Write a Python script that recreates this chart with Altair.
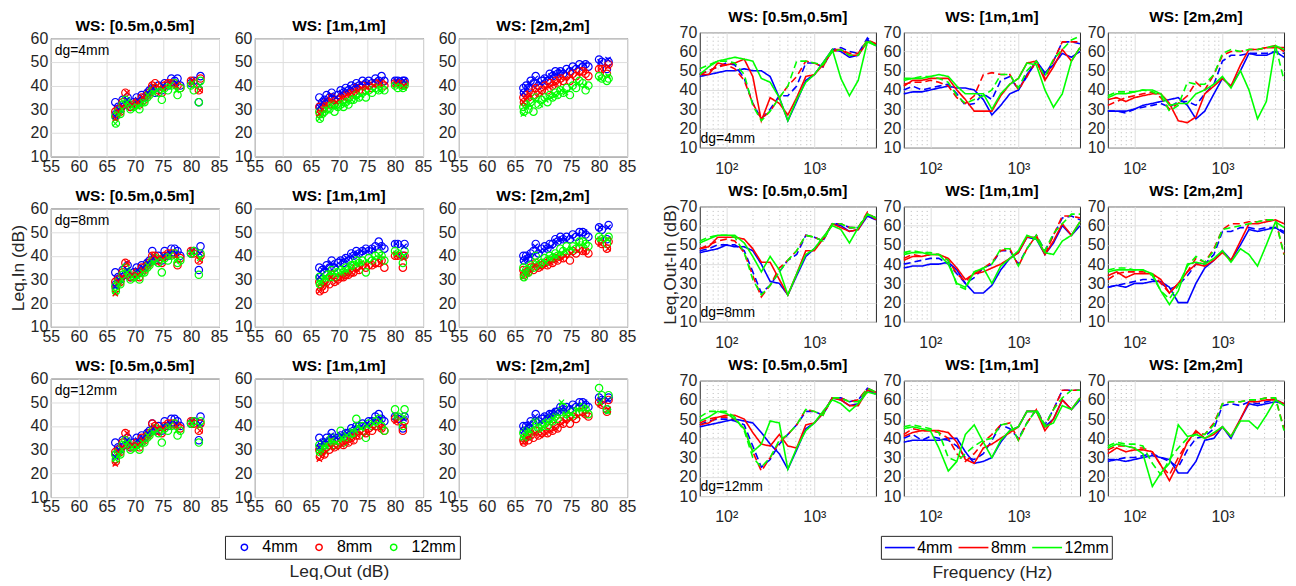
import altair as alt
import pandas as pd

FONT = "Liberation Sans"
TXT = "#262626"
GAPS = ["4mm", "8mm", "12mm"]
COLORS = ["#0000ff", "#ff0000", "#00ff00"]
DGS = ["4", "8", "12"]
WS_KEYS = ["05", "1", "2"]
WS_TITLES = ["WS: [0.5m,0.5m]", "WS: [1m,1m]", "WS: [2m,2m]"]
DG_LABELS = ["dg=4mm", "dg=8mm", "dg=12mm"]

# annotation anchors (data units)
LEFT_NOTE = (55.7, 54.6)
RIGHT_NOTE = (51.0, 14.5)

# ---------------- scatter data: Leq,Out (x) and Leq,In (y) ----------------
# circle markers
LEQ_OUT = [66.5, 66.6, 67.0, 67.4, 67.8, 68.3, 68.7, 69.2, 69.8, 70.3, 70.8, 71.2, 71.7, 72.2, 72.6,
           73.1, 73.6, 74.2, 74.8, 75.3, 75.9, 76.5, 77.1, 77.6, 78.1, 80.0, 80.5, 81.4, 81.7]

SC_4_05_B = [33, 28, 31, 30, 34, 32, 35, 31, 33, 35, 33, 36, 35, 37, 38, 39, 37, 40, 38, 41, 40, 43, 42, 43, 40, 41, 42, 33, 44]
SC_4_05_R = [29, 27, 30, 29, 33, 37, 32, 31, 32, 33, 32, 35, 34, 36, 37, 40, 41, 38, 37, 40, 41, 41, 41, 40, 39, 42, 41, 38, 43]
SC_4_05_G = [27, 24, 29, 28, 32, 34, 33, 30, 31, 32, 30, 33, 33, 35, 36, 38, 39, 37, 34, 39, 38, 40, 41, 36, 39, 40, 38, 33, 42]
SC_4_1_B = [35, 31, 33, 34, 36, 35, 37, 34, 36, 38, 37, 39, 38, 40, 39, 41, 40, 42, 41, 42, 41, 43, 42, 44, 42, 42, 42, 42, 42]
SC_4_1_R = [31, 28, 30, 31, 33, 32, 35, 32, 34, 35, 34, 36, 35, 37, 37, 39, 38, 40, 38, 40, 39, 41, 41, 41, 40, 41, 41, 40, 41]
SC_4_1_G = [29, 26, 28, 29, 30, 30, 32, 29, 31, 32, 31, 33, 32, 34, 34, 36, 35, 37, 35, 38, 37, 39, 38, 39, 38, 40, 39, 39, 40]
SC_4_2_B = [39, 37, 40, 39, 42, 41, 44, 40, 42, 43, 42, 45, 44, 46, 45, 46, 45, 47, 46, 48, 47, 49, 48, 49, 48, 51, 50, 47, 50]
SC_4_2_R = [35, 33, 36, 35, 37, 36, 39, 37, 38, 40, 38, 41, 40, 42, 41, 43, 42, 44, 42, 45, 44, 46, 46, 45, 44, 47, 47, 45, 49]
SC_4_2_G = [31, 29, 32, 30, 33, 29, 35, 32, 34, 35, 33, 36, 35, 37, 36, 38, 37, 39, 36, 40, 39, 42, 41, 38, 40, 44, 43, 42, 43]

SC_8_05_B = [33, 28, 31, 30, 34, 32, 36, 31, 33, 35, 33, 36, 35, 37, 38, 42, 38, 40, 38, 42, 40, 43, 43, 42, 40, 41, 42, 34, 44]
SC_8_05_R = [29, 26, 30, 29, 33, 37, 32, 31, 31, 33, 31, 35, 34, 36, 37, 40, 40, 38, 37, 40, 41, 41, 41, 36, 39, 42, 41, 38, 40]
SC_8_05_G = [27, 25, 29, 28, 32, 35, 33, 30, 31, 32, 30, 33, 33, 35, 36, 38, 39, 37, 33, 39, 38, 40, 41, 37, 38, 41, 42, 32, 41]
SC_8_1_B = [35, 31, 34, 33, 36, 35, 38, 35, 37, 38, 37, 39, 38, 41, 40, 42, 41, 42, 43, 42, 43, 44, 46, 44, 43, 45, 45, 40, 45]
SC_8_1_R = [29, 25, 27, 26, 29, 28, 32, 29, 30, 31, 31, 32, 32, 33, 33, 35, 34, 36, 35, 36, 36, 37, 37, 38, 35, 40, 40, 35, 40]
SC_8_1_G = [31, 28, 30, 29, 32, 31, 34, 31, 33, 34, 33, 35, 34, 36, 36, 38, 37, 38, 33, 39, 38, 40, 41, 40, 38, 42, 41, 37, 42]
SC_8_2_B = [40, 38, 40, 39, 41, 42, 45, 41, 43, 44, 43, 45, 45, 47, 46, 48, 47, 48, 47, 49, 48, 50, 50, 49, 48, 52, 51, 47, 53]
SC_8_2_R = [34, 32, 33, 33, 35, 34, 37, 35, 36, 37, 36, 38, 37, 39, 38, 40, 39, 41, 38, 42, 41, 43, 42, 42, 41, 46, 45, 43, 46]
SC_8_2_G = [35, 31, 34, 33, 36, 35, 40, 36, 37, 39, 38, 40, 39, 41, 40, 43, 42, 44, 42, 44, 43, 46, 46, 45, 44, 48, 47, 45, 48]

SC_12_05_B = [33, 28, 31, 30, 34, 32, 35, 31, 33, 35, 33, 36, 35, 37, 38, 41, 38, 40, 38, 42, 40, 43, 43, 42, 40, 41, 42, 34, 44]
SC_12_05_R = [29, 25, 30, 29, 33, 37, 32, 31, 31, 33, 31, 35, 34, 36, 37, 41, 40, 38, 37, 40, 41, 41, 41, 40, 39, 42, 41, 38, 41]
SC_12_05_G = [28, 26, 29, 28, 32, 34, 33, 30, 31, 32, 30, 33, 33, 35, 36, 38, 39, 37, 33, 39, 38, 40, 41, 36, 38, 41, 42, 33, 42]
SC_12_1_B = [35, 31, 33, 32, 35, 34, 37, 34, 35, 36, 35, 37, 37, 39, 38, 40, 40, 41, 40, 42, 42, 44, 45, 43, 42, 44, 43, 39, 44]
SC_12_1_R = [30, 27, 29, 28, 31, 30, 33, 31, 32, 33, 32, 34, 33, 35, 34, 36, 36, 38, 37, 39, 38, 40, 41, 39, 38, 43, 42, 38, 42]
SC_12_1_G = [32, 29, 31, 30, 33, 32, 35, 32, 34, 38, 33, 35, 35, 37, 37, 43, 38, 40, 35, 41, 40, 42, 43, 40, 38, 47, 44, 40, 47]
SC_12_2_B = [40, 38, 40, 39, 42, 41, 45, 42, 43, 44, 43, 45, 45, 46, 46, 48, 47, 48, 47, 49, 48, 50, 50, 49, 48, 52, 51, 47, 52]
SC_12_2_R = [34, 33, 35, 34, 36, 35, 38, 36, 37, 38, 37, 39, 38, 40, 39, 42, 41, 43, 41, 44, 43, 46, 46, 45, 44, 50, 49, 46, 51]
SC_12_2_G = [37, 35, 38, 36, 39, 38, 42, 39, 40, 41, 40, 43, 42, 44, 43, 46, 48, 45, 44, 46, 45, 48, 48, 47, 45, 56, 53, 47, 53]

# cross markers
LEQ_OUT_X = [66.5, 67.1, 67.7, 68.6, 69.5, 70.5, 71.4, 72.3, 73.3, 74.0, 75.0, 76.2, 77.4, 80.2, 81.6]

SX_4_05_B = [27, 30, 31, 34, 32, 34, 35, 37, 39, 38, 40, 41, 41, 42, 40]
SX_4_05_R = [26, 29, 31, 37, 32, 33, 35, 36, 40, 40, 39, 41, 40, 42, 38]
SX_4_05_G = [24, 28, 30, 33, 31, 31, 33, 36, 37, 38, 38, 40, 38, 41, 40]
SX_4_1_B = [31, 33, 34, 36, 35, 37, 38, 39, 40, 41, 41, 42, 42, 42, 42]
SX_4_1_R = [28, 30, 32, 34, 33, 35, 36, 37, 38, 39, 39, 40, 41, 41, 40]
SX_4_1_G = [26, 28, 30, 32, 31, 32, 33, 34, 35, 36, 37, 38, 38, 40, 39]
SX_4_2_B = [37, 39, 41, 43, 41, 43, 44, 45, 46, 46, 47, 48, 49, 50, 51]
SX_4_2_R = [33, 35, 36, 39, 37, 39, 40, 41, 43, 43, 44, 45, 46, 47, 48]
SX_4_2_G = [28, 31, 32, 34, 32, 34, 35, 36, 38, 37, 39, 41, 40, 43, 44]
SX_8_05_B = [27, 30, 31, 34, 32, 34, 35, 37, 39, 38, 40, 41, 41, 42, 41]
SX_8_05_R = [24, 29, 31, 37, 32, 32, 34, 36, 40, 39, 39, 40, 40, 42, 38]
SX_8_05_G = [25, 28, 30, 33, 31, 31, 33, 36, 37, 38, 38, 40, 38, 41, 39]
SX_8_1_B = [31, 34, 35, 37, 36, 38, 39, 40, 41, 42, 42, 43, 44, 45, 44]
SX_8_1_R = [25, 27, 28, 31, 29, 31, 32, 33, 34, 35, 36, 36, 37, 40, 39]
SX_8_1_G = [28, 30, 31, 33, 32, 33, 34, 36, 37, 37, 38, 39, 40, 41, 40]
SX_8_2_B = [38, 39, 40, 44, 42, 43, 44, 46, 47, 47, 48, 49, 50, 52, 52]
SX_8_2_R = [31, 33, 34, 36, 35, 36, 37, 38, 39, 40, 41, 42, 42, 45, 43]
SX_8_2_G = [31, 33, 35, 38, 36, 37, 39, 40, 41, 42, 43, 45, 45, 47, 47]
SX_12_05_B = [27, 30, 31, 34, 32, 34, 35, 37, 39, 38, 40, 41, 41, 42, 41]
SX_12_05_R = [24, 29, 31, 37, 32, 32, 34, 36, 40, 39, 39, 40, 40, 42, 38]
SX_12_05_G = [26, 28, 30, 33, 31, 31, 33, 36, 37, 38, 38, 40, 38, 41, 40]
SX_12_1_B = [31, 33, 34, 36, 35, 36, 37, 38, 40, 40, 41, 42, 43, 44, 43]
SX_12_1_R = [26, 28, 29, 31, 31, 32, 33, 34, 36, 37, 37, 39, 39, 42, 40]
SX_12_1_G = [29, 31, 32, 34, 33, 35, 36, 38, 40, 39, 40, 41, 42, 44, 44]
SX_12_2_B = [38, 40, 41, 44, 42, 44, 45, 46, 47, 47, 48, 49, 50, 51, 51]
SX_12_2_R = [33, 35, 36, 37, 36, 37, 38, 39, 41, 42, 43, 44, 45, 49, 47]
SX_12_2_G = [35, 37, 38, 42, 39, 41, 42, 44, 50, 45, 45, 47, 47, 50, 46]

# ---------------- spectra: 1/3-octave bands, Leq,Out-In (dB) ----------------
FREQ = [50, 63, 80, 100, 125, 160, 200, 250, 315, 400, 500, 630, 800, 1000, 1250, 1600, 2000, 2500, 3150, 4000, 5000]

LN_4_05_Bs = [47, 48, 49, 50, 50, 51, 50, 50, 47, 36, 24, 34, 45, 48, 54, 61, 60, 57, 58, 66, 63]
LN_4_05_Bd = [48, 50, 52, 54, 53, 46, 33, 25, 30, 37, 37, 42, 54, 54, 52, 61, 62, 60, 59, 67, 63]
LN_4_05_Rs = [48, 48, 54, 53, 54, 56, 47, 24, 36, 33, 27, 36, 47, 48, 53, 60, 61, 58, 58, 65, 64]
LN_4_05_Rd = [48, 50, 52, 53, 51, 45, 33, 25, 29, 36, 42, 47, 55, 54, 52, 61, 61, 59, 59, 66, 64]
LN_4_05_Gs = [48, 52, 55, 56, 57, 56, 55, 46, 44, 36, 24, 35, 44, 48, 54, 61, 46, 37, 45, 65, 63]
LN_4_05_Gd = [51, 53, 55, 55, 54, 48, 32, 24, 29, 36, 42, 55, 55, 54, 53, 60, 61, 58, 58, 66, 63]

LN_4_1_Bs = [38, 39, 39, 40, 41, 42, 41, 41, 40, 35, 27, 32, 38, 40, 48, 55, 49, 53, 59, 57, 60]
LN_4_1_Bd = [40, 42, 40, 41, 42, 43, 38, 32, 33, 38, 35, 45, 47, 40, 47, 55, 48, 55, 65, 65, 64]
LN_4_1_Rs = [42, 45, 45, 46, 46, 46, 40, 35, 29, 29, 29, 37, 43, 46, 54, 55, 45, 52, 61, 55, 62]
LN_4_1_Rd = [43, 44, 44, 45, 44, 42, 36, 33, 37, 48, 49, 48, 48, 40, 47, 55, 46, 55, 65, 65, 65]
LN_4_1_Gs = [45, 46, 46, 47, 48, 47, 42, 38, 38, 38, 30, 38, 43, 46, 54, 53, 40, 31, 38, 55, 62]
LN_4_1_Gd = [46, 46, 47, 47, 46, 44, 37, 33, 35, 37, 40, 48, 48, 41, 50, 55, 47, 56, 61, 66, 68]

LN_4_2_Bs = [29, 29, 29, 30, 32, 33, 34, 35, 36, 32, 25, 29, 38, 46, 42, 50, 59, 58, 58, 60, 57]
LN_4_2_Bd = [29, 29, 28, 30, 31, 32, 33, 31, 34, 34, 32, 38, 43, 55, 58, 58, 59, 59, 59, 60, 59]
LN_4_2_Rs = [35, 36, 34, 36, 37, 38, 38, 33, 24, 23, 26, 38, 42, 46, 42, 53, 61, 61, 62, 62, 62]
LN_4_2_Rd = [32, 34, 36, 37, 38, 39, 36, 30, 33, 37, 44, 40, 48, 58, 60, 60, 61, 61, 62, 63, 60]
LN_4_2_Gs = [36, 38, 38, 39, 40, 40, 38, 32, 33, 33, 38, 40, 43, 47, 41, 50, 40, 25, 34, 63, 61]
LN_4_2_Gd = [37, 39, 39, 39, 40, 39, 37, 29, 32, 44, 43, 43, 48, 59, 61, 60, 61, 61, 62, 63, 45]

LN_8_05_Bs = [46, 47, 48, 50, 49, 49, 47, 40, 31, 30, 24, 34, 44, 48, 53, 61, 60, 57, 58, 65, 63]
LN_8_05_Bd = [47, 48, 50, 50, 50, 47, 36, 25, 29, 36, 42, 45, 55, 54, 52, 61, 61, 59, 59, 66, 64]
LN_8_05_Rs = [48, 49, 54, 54, 54, 53, 48, 41, 41, 32, 24, 35, 47, 47, 53, 61, 59, 57, 58, 66, 64]
LN_8_05_Rd = [48, 50, 52, 53, 52, 46, 34, 23, 29, 38, 42, 47, 55, 54, 52, 61, 61, 59, 59, 67, 63]
LN_8_05_Gs = [51, 53, 55, 55, 55, 51, 44, 36, 44, 37, 24, 35, 45, 48, 54, 60, 58, 51, 59, 66, 64]
LN_8_05_Gd = [52, 54, 55, 55, 54, 46, 32, 24, 29, 36, 42, 47, 55, 54, 52, 61, 61, 59, 59, 66, 64]

LN_8_1_Bs = [38, 39, 39, 40, 40, 41, 37, 30, 25, 25, 29, 37, 43, 46, 54, 53, 45, 51, 60, 55, 60]
LN_8_1_Bd = [40, 41, 42, 43, 43, 40, 35, 30, 33, 38, 40, 47, 47, 40, 48, 55, 47, 55, 64, 65, 63]
LN_8_1_Rs = [42, 44, 44, 45, 45, 43, 38, 32, 35, 36, 38, 40, 43, 46, 54, 54, 45, 52, 61, 55, 62]
LN_8_1_Rd = [43, 45, 44, 45, 45, 42, 35, 31, 35, 38, 41, 47, 48, 39, 48, 55, 45, 55, 65, 65, 64]
LN_8_1_Gs = [45, 46, 46, 45, 45, 40, 30, 28, 36, 38, 30, 39, 43, 47, 55, 53, 46, 45, 52, 55, 62]
LN_8_1_Gd = [46, 47, 46, 46, 45, 42, 29, 27, 36, 38, 40, 48, 48, 39, 48, 55, 47, 56, 61, 66, 66]

LN_8_2_Bs = [28, 29, 28, 30, 30, 31, 31, 28, 20, 20, 30, 38, 42, 47, 42, 50, 58, 57, 58, 59, 56]
LN_8_2_Bd = [28, 29, 30, 31, 32, 32, 30, 27, 29, 34, 40, 40, 45, 57, 57, 59, 59, 58, 59, 59, 57]
LN_8_2_Rs = [34, 36, 33, 35, 35, 35, 32, 25, 30, 36, 40, 39, 42, 46, 42, 52, 61, 61, 62, 63, 61]
LN_8_2_Rd = [32, 35, 36, 36, 36, 35, 30, 25, 30, 36, 43, 41, 48, 58, 61, 61, 62, 62, 63, 63, 45]
LN_8_2_Gs = [36, 37, 37, 37, 37, 35, 26, 19, 26, 40, 41, 40, 43, 47, 41, 48, 45, 39, 50, 62, 59]
LN_8_2_Gd = [37, 38, 38, 37, 37, 34, 26, 22, 29, 39, 44, 41, 47, 58, 59, 60, 61, 62, 63, 63, 45]

LN_12_05_Bs = [46, 47, 48, 49, 50, 49, 48, 43, 37, 32, 24, 34, 45, 48, 53, 61, 60, 57, 58, 65, 63]
LN_12_05_Bd = [47, 49, 50, 50, 49, 47, 36, 25, 29, 37, 42, 47, 54, 54, 52, 61, 61, 59, 60, 66, 64]
LN_12_05_Rs = [47, 48, 51, 52, 52, 50, 43, 37, 36, 42, 36, 35, 47, 48, 53, 61, 60, 57, 57, 65, 64]
LN_12_05_Rd = [48, 50, 51, 51, 50, 45, 33, 23, 30, 38, 42, 47, 55, 54, 52, 61, 61, 59, 60, 66, 64]
LN_12_05_Gs = [49, 51, 54, 53, 50, 45, 33, 37, 49, 48, 24, 35, 44, 48, 54, 60, 58, 54, 58, 64, 63]
LN_12_05_Gd = [51, 54, 54, 54, 51, 44, 30, 25, 30, 39, 42, 47, 55, 54, 52, 61, 61, 59, 59, 66, 64]

LN_12_1_Bs = [38, 39, 39, 39, 39, 40, 40, 33, 27, 28, 30, 38, 44, 46, 54, 54, 46, 50, 60, 55, 60]
LN_12_1_Bd = [40, 42, 39, 41, 40, 39, 36, 30, 29, 32, 39, 47, 45, 40, 48, 55, 47, 55, 65, 65, 65]
LN_12_1_Rs = [41, 43, 44, 44, 44, 43, 38, 29, 27, 35, 37, 40, 43, 46, 54, 54, 44, 50, 60, 55, 61]
LN_12_1_Rd = [42, 45, 44, 44, 43, 40, 32, 28, 32, 38, 42, 47, 48, 39, 48, 55, 46, 55, 65, 65, 65]
LN_12_1_Gs = [45, 46, 45, 44, 35, 23, 28, 42, 47, 38, 30, 39, 44, 46, 54, 54, 46, 48, 57, 55, 61]
LN_12_1_Gd = [46, 47, 46, 45, 43, 30, 28, 32, 36, 39, 40, 47, 48, 39, 48, 55, 47, 55, 61, 65, 65]

LN_12_2_Bs = [28, 29, 28, 29, 30, 31, 30, 29, 22, 22, 28, 39, 40, 46, 40, 50, 58, 57, 58, 59, 58]
LN_12_2_Bd = [29, 29, 30, 30, 31, 32, 30, 28, 25, 34, 40, 41, 45, 57, 58, 57, 59, 58, 59, 60, 58]
LN_12_2_Rs = [32, 35, 33, 34, 34, 33, 26, 18, 27, 38, 44, 40, 42, 46, 41, 50, 59, 59, 60, 60, 58]
LN_12_2_Rd = [34, 36, 36, 35, 35, 33, 26, 21, 30, 38, 43, 42, 48, 58, 59, 59, 60, 60, 61, 61, 45]
LN_12_2_Gs = [35, 37, 36, 35, 32, 15, 22, 27, 47, 41, 42, 40, 43, 46, 41, 49, 49, 45, 52, 60, 57]
LN_12_2_Gd = [36, 38, 37, 37, 36, 27, 21, 29, 35, 40, 42, 42, 47, 58, 59, 59, 60, 60, 61, 61, 44]

LEFT_X_TICKS = [55, 60, 65, 70, 75, 80, 85]
LEFT_Y_TICKS = [10, 20, 30, 40, 50, 60]
RIGHT_Y_TICKS = [10, 20, 30, 40, 50, 60, 70]
FREQ_TICKS = [60, 70, 80, 90, 100, 200, 300, 400, 500, 600, 700, 800, 900, 1000, 2000, 3000, 4000]

XSHAPE = "M-1,-1L1,1M1,-1L-1,1"
LINE_SYMBOL = "M-2,0L2,0"

G = globals()


def color_scale():
    return alt.Scale(domain=GAPS, range=COLORS)


def scatter_panel(r, c):
    rows, xrows = [], []
    for g, code in zip(GAPS, "BRG"):
        for x, y in zip(LEQ_OUT, G[f"SC_{DGS[r]}_{WS_KEYS[c]}_{code}"]):
            rows.append({"out": x, "inn": y, "gap": g})
        for x, y in zip(LEQ_OUT_X, G[f"SX_{DGS[r]}_{WS_KEYS[c]}_{code}"]):
            xrows.append({"out": x, "inn": y, "gap": g})
    df = pd.DataFrame(rows)
    dfx = pd.DataFrame(xrows)
    xaxis_kw = dict(values=LEFT_X_TICKS, labelFlush=False, labelOverlap=False, labelPadding=2, title=None)
    if r == 2 and c == 1:
        xaxis_kw.update(title="Leq,Out (dB)", titlePadding=48)
    yaxis_kw = dict(values=LEFT_Y_TICKS, labelOverlap=False, labelPadding=3, title=None)
    if r == 1 and c == 0:
        yaxis_kw.update(title="Leq,In (dB)", titlePadding=3)
    x = alt.X("out:Q", scale=alt.Scale(domain=[55, 85], nice=False, zero=False), axis=alt.Axis(**xaxis_kw))
    y = alt.Y("inn:Q", scale=alt.Scale(domain=[10, 60], nice=False, zero=False), axis=alt.Axis(**yaxis_kw))
    if r == 2 and c == 1:
        legend = alt.Legend(orient="none", legendX=-30, legendY=158, direction="horizontal", title=None,
                            strokeColor=TXT, fillColor="white", padding=3.5, symbolOffset=8,
                            symbolSize=40, symbolStrokeWidth=1.5, labelFontSize=16, labelFont=FONT,
                            labelColor="black", labelOffset=10, columnPadding=5)
    else:
        legend = None
    circles = alt.Chart(df).mark_point(shape="circle", filled=False, size=55, strokeWidth=1.2, opacity=1).encode(
        x=x, y=y, color=alt.Color("gap:N", scale=color_scale(), legend=legend))
    crosses = alt.Chart(dfx).mark_point(shape=XSHAPE, filled=False, size=28, strokeWidth=1.3, opacity=1).encode(
        x=x, y=y, stroke=alt.Stroke("gap:N", scale=color_scale(), legend=None))
    layers = [circles, crosses]
    if c == 0:
        note = pd.DataFrame({"out": [LEFT_NOTE[0]], "inn": [LEFT_NOTE[1]], "t": [DG_LABELS[r]]})
        layers.append(alt.Chart(note).mark_text(align="left", baseline="middle", font=FONT, fontSize=14,
                                                color="black").encode(x=x, y=y, text="t:N"))
    return alt.layer(*layers).properties(
        width=169, height=119, title=alt.TitleParams(WS_TITLES[c], offset=-4))


def line_panel(r, c):
    rows = []
    for g, code in zip(GAPS, "BRG"):
        for st, sfx in (("solid", "s"), ("dashed", "d")):
            vals = G[f"LN_{DGS[r]}_{WS_KEYS[c]}_{code}{sfx}"]
            for f, v in zip(FREQ, vals):
                rows.append({"freq": f, "lvl": v, "gap": g, "style": st, "key": g + st})
    df = pd.DataFrame(rows)
    xaxis_kw = dict(values=FREQ_TICKS, labelFlush=False, labelOverlap=False, labelPadding=13, title=None,
                    labelExpr="datum.value === 100 ? '10²' : (datum.value === 1000 ? '10³' : '')",
                    gridDash={"condition": {"test": "datum.value === 100 || datum.value === 1000", "value": []},
                              "value": [1, 3]},
                    gridColor={"condition": {"test": "datum.value === 100 || datum.value === 1000",
                                             "value": "#dedede"}, "value": "#b8b8b8"})
    if r == 2 and c == 1:
        xaxis_kw.update(title="Frequency (Hz)", titlePadding=39)
    yaxis_kw = dict(values=RIGHT_Y_TICKS, labelOverlap=False, labelPadding=3, title=None)
    if r == 1 and c == 0:
        yaxis_kw.update(title="Leq,Out-In (dB)", titlePadding=0)
    x = alt.X("freq:Q", scale=alt.Scale(type="log", domain=[50, 5000], nice=False), axis=alt.Axis(**xaxis_kw))
    y = alt.Y("lvl:Q", scale=alt.Scale(domain=[10, 70], nice=False, zero=False), axis=alt.Axis(**yaxis_kw))
    if r == 2 and c == 1:
        legend = alt.Legend(orient="none", legendX=-23, legendY=156, direction="horizontal", title=None,
                            strokeColor=TXT, fillColor="white", padding=3, symbolType=LINE_SYMBOL,
                            symbolSize=225, symbolOffset=7.5, symbolStrokeWidth=1.6, labelFontSize=16,
                            labelFont=FONT, labelColor="black", labelOffset=9, columnPadding=1)
    else:
        legend = None
    lines = alt.Chart(df).mark_line(strokeWidth=1.6).encode(
        x=x, y=y,
        color=alt.Color("gap:N", scale=color_scale(), legend=legend),
        strokeDash=alt.StrokeDash("style:N", scale=alt.Scale(domain=["solid", "dashed"], range=[[1, 0], [7, 4]]),
                                  legend=None),
        detail="key:N")
    layers = [lines]
    if c == 0:
        note = pd.DataFrame({"freq": [RIGHT_NOTE[0]], "lvl": [RIGHT_NOTE[1]], "t": [DG_LABELS[r]]})
        layers.append(alt.Chart(note).mark_text(align="left", baseline="middle", font=FONT, fontSize=14,
                                                color="black").encode(x=x, y=y, text="t:N"))
    return alt.layer(*layers).properties(
        width=177, height=116, title=alt.TitleParams(WS_TITLES[c], offset=-1))


left_grid = alt.concat(*[scatter_panel(r, c) for r in range(3) for c in range(3)],
                       columns=3, spacing={"row": 52, "column": 36}, bounds="flush"
                       ).resolve_scale(color="independent", stroke="independent")
right_grid = alt.concat(*[line_panel(r, c) for r in range(3) for c in range(3)],
                        columns=3, spacing={"row": 59, "column": 28}, bounds="flush"
                        ).resolve_scale(color="independent", strokeDash="independent")

spacer = alt.Chart(pd.DataFrame({"v": [0]})).mark_point(opacity=0).encode(
    x=alt.X("v:Q", axis=None), y=alt.Y("v:Q", axis=None)
).properties(width=10, height=1, view=alt.ViewBackground(strokeOpacity=0))

left = alt.vconcat(spacer, left_grid, spacing=5, bounds="flush").resolve_scale(color="independent",
                                                                               stroke="independent")

chart = alt.hconcat(left, right_grid, spacing=652, bounds="flush").resolve_scale(
    color="independent", stroke="independent", strokeDash="independent"
).properties(padding=0, background="white").configure_view(
    stroke=TXT, strokeWidth=1
).configure_axis(
    labelFont=FONT, labelFontSize=16, labelColor=TXT, ticks=False, domain=False,
    gridColor="#dedede", gridWidth=1, titleFont=FONT, titleFontSize=17.5,
    titleFontWeight="normal", titleColor=TXT
).configure_title(
    font=FONT, fontSize=15.5, fontWeight="bold", color="black"
)

chart.save("out.html", embed_options={"renderer": "svg", "actions": False})
